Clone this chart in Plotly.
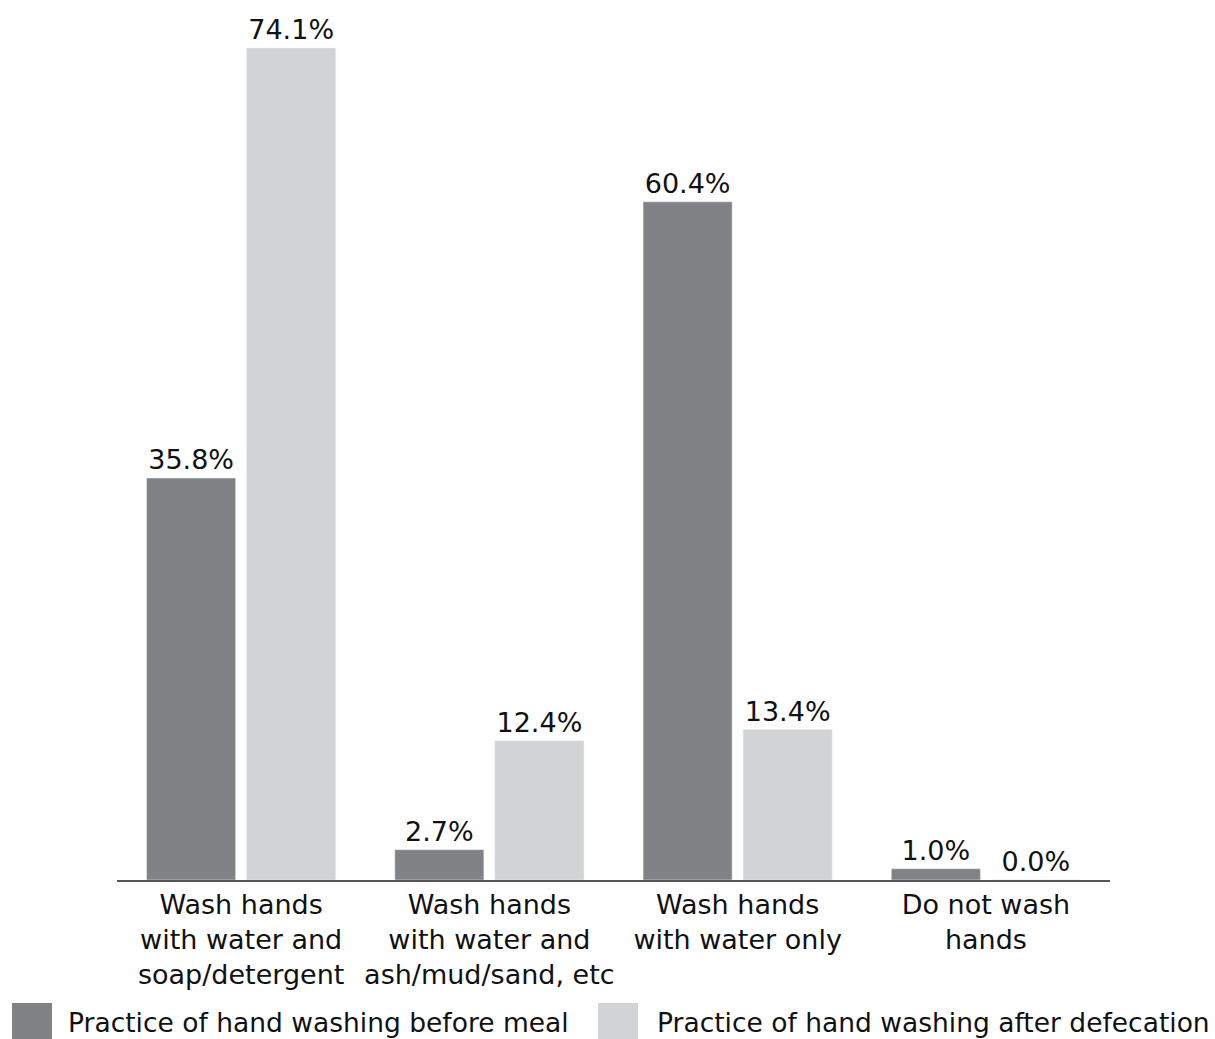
import plotly.graph_objects as go

categories = ["Wash hands<br>with water and<br>soap/detergent",
              "Wash hands<br>with water and<br>ash/mud/sand, etc",
              "Wash hands<br>with water only",
              "Do not wash<br>hands"]
series_names = ["Practice of hand washing before meal",
                "Practice of hand washing after defecation"]
before_meal = [35.8, 2.7, 60.4, 1.0]
after_defecation = [74.1, 12.4, 13.4, 0.0]
colors = ["#808285", "#D1D3D4"]

FONT = "DejaVu Sans"
fig = go.Figure()
for name, vals, col in zip(series_names, [before_meal, after_defecation], colors):
    fig.add_trace(go.Bar(
        x=categories, y=vals, name=name, marker_color=col,
        text=[f"{v:.1f}%" for v in vals], textposition="outside",
        textfont=dict(family=FONT, size=27, color="#111111"),
        cliponaxis=False, constraintext="none", showlegend=False))

fig.update_layout(
    width=1215, height=1039,
    margin=dict(l=117, r=105, t=20, b=159),
    paper_bgcolor="white", plot_bgcolor="white",
    barmode="group", bargap=0.194, bargroupgap=0.11,
    font=dict(family=FONT, size=27, color="#111111"),
)
fig.update_xaxes(showline=True, linecolor="#555555", linewidth=1.5,
                 ticks="", tickfont=dict(family=FONT, size=27, color="#111111"))
fig.update_yaxes(range=[0, 860 / 11.228], visible=False, showgrid=False, zeroline=False)

# legend drawn manually at bottom
leg = [(12, 52, 66), (598, 638, 655)]
for (x0, x1, tx), name, col in zip(leg, series_names, colors):
    fig.add_shape(type="rect", xref="paper", yref="paper",
                  x0=(x0 - 117) / 993, x1=(x1 - 117) / 993,
                  y0=-(1039 - 880) / 860, y1=-(1003 - 880) / 860,
                  fillcolor=col, line_width=0, layer="above")
    fig.add_annotation(xref="paper", yref="paper", x=(tx - 117) / 993,
                       y=-(1022 - 880) / 860, text=name, showarrow=False,
                       xanchor="left", yanchor="middle",
                       font=dict(family=FONT, size=26.5, color="#111111"))

fig.write_html("out.html")
